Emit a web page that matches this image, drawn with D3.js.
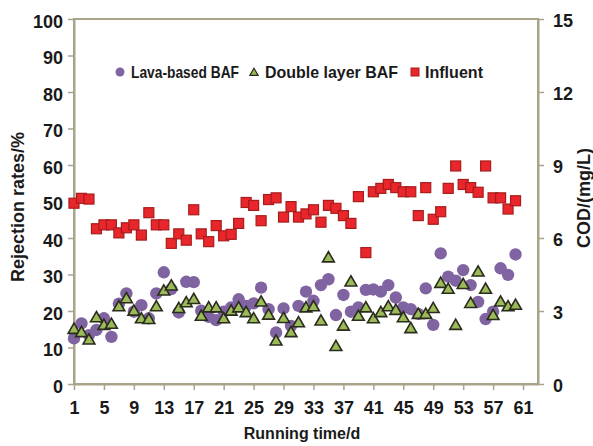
<!DOCTYPE html>
<html>
<head>
<meta charset="utf-8">
<script src="https://cdn.jsdelivr.net/npm/d3@7"></script>
<style>
  html, body { margin: 0; padding: 0; background: #fff; }
  svg text { font-family: "Liberation Sans", Arial, sans-serif; fill: #1a1a1a; }
</style>
</head>
<body>
<svg id="chart" width="593" height="446"></svg>
<script>
// Running time (d)
const days = d3.range(1, 61);

// Rejection rates (%) for each filter
const lavaBAF = [12.5, 16.6, 13.4, 14.8, 18.0, 12.9, 22.0, 24.8, 19.8, 21.6,
                 18.0, 24.8, 30.6, 26.0, 19.6, 28.0, 27.9, 20.1, 18.4, 17.5,
                 19.8, 21.0, 23.2, 21.4, 22.1, 26.4, 20.5, 14.1, 20.7, 15.9,
                 21.4, 25.3, 22.8, 27.1, 28.7, 18.9, 24.4, 19.8, 21.0, 25.8,
                 25.9, 25.3, 27.1, 23.7, 21.0, 20.5, 19.2, 26.2, 16.2, 35.8,
                 29.4, 28.3, 31.2, 27.1, 22.5, 17.8, 19.8, 31.7, 29.9, 35.5];
const doubleLayerBAF = [14.8, 13.9, 11.9, 18.0, 15.9, 16.2, 21.0, 23.2, 19.8, 17.7,
                        17.5, 21.0, 25.3, 26.7, 20.5, 22.1, 23.0, 18.4, 20.7, 20.7,
                        17.7, 19.8, 20.7, 19.4, 17.7, 22.3, 18.7, 11.6, 17.8, 13.9,
                        16.6, 20.7, 21.0, 17.1, 34.4, 10.1, 15.7, 27.8, 18.4, 20.7,
                        17.7, 19.4, 21.0, 20.0, 18.0, 15.0, 18.9, 18.9, 20.5, 27.4,
                        25.8, 15.9, 27.1, 21.9, 30.5, 25.8, 18.6, 22.3, 21.0, 21.4];

// Influent COD (mg/L)
const influent = [7.43, 7.63, 7.60, 6.38, 6.54, 6.54, 6.21, 6.42, 6.54, 6.12,
                  7.04, 6.54, 6.54, 5.78, 6.17, 5.91, 7.16, 6.17, 5.85, 6.51,
                  6.09, 6.15, 6.60, 7.46, 7.34, 6.71, 7.58, 7.65, 6.86, 7.29,
                  6.86, 6.99, 7.16, 6.65, 7.34, 7.22, 6.92, 6.60, 7.70, 5.40,
                  7.90, 8.04, 8.20, 8.07, 7.90, 7.90, 6.92, 8.07, 6.77, 7.08,
                  8.04, 8.96, 8.20, 8.07, 7.88, 8.96, 7.65, 7.65, 7.19, 7.53];

// Axis ticks
const xTicks = d3.range(1, 62, 4);
const leftTicks = d3.range(0, 101, 10);
const rightTicks = [0, 3, 6, 9, 12, 15];

const seriesNames = ["Lava-based BAF", "Double layer BAF", "Influent"];

const colors = {
  lava: "#8064a2",
  dbl: "#9bbb59", dblStroke: "#2b2b1e",
  inf: "#e8262b", infStroke: "#a81c1c",
  axis: "#a8a389"
};

const svg = d3.select("#chart");
const plot = { left: 74, right: 538, top: 19, bottom: 384 };

const x = d3.scaleLinear().domain([1, 63]).range([plot.left, plot.right]);
const yL = d3.scaleLinear().domain([0, 100]).range([plot.bottom, plot.top]);
const yR = d3.scaleLinear().domain([0, 15]).range([plot.bottom, plot.top]);

// Plot frame
svg.append("rect")
  .attr("x", plot.left).attr("y", plot.top)
  .attr("width", plot.right - plot.left).attr("height", plot.bottom - plot.top)
  .attr("fill", "none").attr("stroke", colors.axis).attr("stroke-width", 2);

function styleAxis(g) {
  g.select(".domain").attr("stroke", colors.axis).attr("stroke-width", 2);
  g.selectAll(".tick line").attr("stroke", colors.axis).attr("stroke-width", 1.5);
  g.selectAll(".tick text")
    .style("font-size", "18px").style("font-weight", "bold").attr("fill", "#1a1a1a");
}

svg.append("g")
  .attr("transform", `translate(0,${plot.bottom})`)
  .call(d3.axisBottom(x).tickValues(xTicks).tickSize(6).tickPadding(11).tickSizeOuter(0))
  .call(styleAxis);

svg.append("g")
  .attr("transform", `translate(${plot.left},0)`)
  .call(d3.axisLeft(yL).tickValues(leftTicks).tickSize(6).tickPadding(5).tickSizeOuter(0))
  .call(styleAxis)
  .call(g => g.selectAll(".tick text").attr("dy", "0.45em"));

svg.append("g")
  .attr("transform", `translate(${plot.right},0)`)
  .call(d3.axisRight(yR).tickValues(rightTicks).tickSize(6).tickPadding(9).tickSizeOuter(0))
  .call(styleAxis)
  .call(g => g.selectAll(".tick text").attr("dy", "0.42em"));

// Axis titles
svg.append("text")
  .attr("transform", "translate(24,207) rotate(-90)")
  .attr("text-anchor", "middle")
  .style("font-size", "18px").style("font-weight", "bold")
  .text("Rejection rates/%");

svg.append("text")
  .attr("transform", "translate(590,198) rotate(-90)")
  .attr("text-anchor", "middle")
  .style("font-size", "18px").style("font-weight", "bold")
  .text("COD/(mg/L)");

svg.append("text")
  .attr("x", 302).attr("y", 439)
  .attr("text-anchor", "middle")
  .style("font-size", "16px").style("font-weight", "bold")
  .text("Running time/d");

// Marker shapes
const triangle = d3.symbol().type(d3.symbolTriangle);

// Lava-based BAF
svg.append("g").selectAll("circle")
  .data(days.map((d, i) => [d, lavaBAF[i]]))
  .join("circle")
  .attr("cx", d => x(d[0])).attr("cy", d => yL(d[1]))
  .attr("r", 6.2)
  .attr("fill", colors.lava);

// Double layer BAF
svg.append("g").selectAll("path")
  .data(days.map((d, i) => [d, doubleLayerBAF[i]]))
  .join("path")
  .attr("transform", d => `translate(${x(d[0])},${yL(d[1])})`)
  .attr("d", triangle.size(60)())
  .attr("fill", colors.dbl)
  .attr("stroke", colors.dblStroke).attr("stroke-width", 1.6);

// Influent COD
svg.append("g").selectAll("rect")
  .data(days.map((d, i) => [d, influent[i]]))
  .join("rect")
  .attr("x", d => x(d[0]) - 5).attr("y", d => yR(d[1]) - 5)
  .attr("width", 10).attr("height", 10)
  .attr("fill", colors.inf)
  .attr("stroke", colors.infStroke).attr("stroke-width", 1.2);

// Legend
const legendY = 72;
const legend = svg.append("g");
legend.append("circle").attr("cx", 120).attr("cy", legendY).attr("r", 4.5).attr("fill", colors.lava);
legend.append("path")
  .attr("transform", `translate(254,${legendY + 1})`)
  .attr("d", d3.symbol().type(d3.symbolTriangle).size(30)())
  .attr("fill", colors.dbl).attr("stroke", colors.dblStroke).attr("stroke-width", 1.2);
legend.append("rect")
  .attr("x", 411).attr("y", legendY - 4).attr("width", 8).attr("height", 8)
  .attr("fill", colors.inf).attr("stroke", colors.infStroke).attr("stroke-width", 1);

const legendText = [
  { x: 131, len: 108 },
  { x: 265, len: 133 },
  { x: 425, len: 58 }
];
legend.selectAll("text.lbl")
  .data(seriesNames)
  .join("text")
  .attr("class", "lbl")
  .attr("x", (d, i) => legendText[i].x)
  .attr("y", legendY + 6)
  .attr("textLength", (d, i) => legendText[i].len)
  .attr("lengthAdjust", "spacingAndGlyphs")
  .style("font-size", "17px").style("font-weight", "bold")
  .text(d => d);
</script>
</body>
</html>
